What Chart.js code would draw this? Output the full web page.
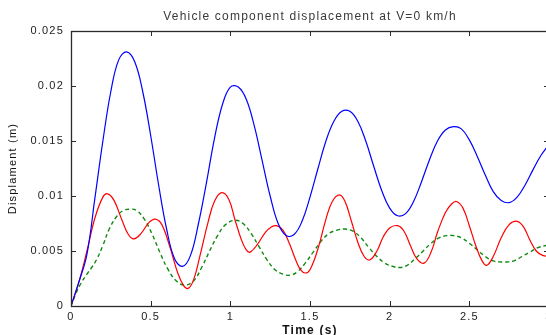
<!DOCTYPE html>
<html>
<head>
<meta charset="utf-8">
<script src="https://cdn.jsdelivr.net/npm/chart.js@4/dist/chart.umd.min.js"></script>
<style>
  html, body { margin: 0; padding: 0; background: #fff; }
  #wrap { width: 546px; height: 335px; overflow: hidden; position: relative; }
  canvas { display: block; }
</style>
</head>
<body>
<div id="wrap"><canvas id="c" width="560" height="335" style="width:560px;height:335px"></canvas></div>
<script>
// ---- data ----
const titleText = 'Vehicle component displacement at V=0 km/h';
const xLabel = 'Time (s)';
const yLabel = 'Displament (m)';
const xTicks = [0, 0.5, 1, 1.5, 2, 2.5, 3];
const xTickLabels = ['0', '0.5', '1', '1.5', '2', '2.5', '3'];
const yTicks = [0, 0.005, 0.01, 0.015, 0.02, 0.025];
const yTickLabels = ['0', '0.005', '0.01', '0.015', '0.02', '0.025'];

const blueT = [0,0.05,0.1,0.15,0.2,0.25,0.3,0.35,0.4,0.45,0.5,0.55,0.6,0.65,0.7,0.75,0.8,0.85,0.9,0.95,1.0,1.05,1.1,1.15,1.2,1.25,1.3,1.35,1.4,1.45,1.5,1.55,1.6,1.65,1.7,1.75,1.8,1.85,1.9,1.95,2.0,2.05,2.1,2.15,2.2,2.25,2.3,2.35,2.4,2.45,2.5,2.55,2.6,2.65,2.7,2.75,2.8,2.85,2.9,2.95,3.0];
const blueV = [0,0.0022,0.0047,0.0098,0.0150,0.0195,0.0224,0.0231,0.0222,0.0195,0.0155,0.0110,0.0070,0.0043,0.0036,0.0046,0.0075,0.0112,0.0152,0.0183,0.0199,0.0199,0.0188,0.0164,0.0132,0.0100,0.0075,0.0064,0.0065,0.0077,0.0099,0.0125,0.0150,0.0168,0.0177,0.0177,0.0168,0.0150,0.0127,0.0105,0.0089,0.0082,0.0084,0.0095,0.0113,0.0133,0.0150,0.0160,0.0163,0.0161,0.0151,0.0136,0.0119,0.0104,0.0096,0.0094,0.0099,0.0110,0.0124,0.0137,0.0147];

const redT = [0,0.05,0.1,0.15,0.2,0.23,0.27,0.32,0.36,0.395,0.44,0.49,0.53,0.57,0.62,0.67,0.705,0.735,0.77,0.81,0.86,0.9,0.946,0.99,1.03,1.07,1.1,1.124,1.17,1.22,1.26,1.29,1.33,1.37,1.41,1.44,1.47,1.5,1.55,1.6,1.64,1.685,1.72,1.76,1.8,1.84,1.877,1.92,1.96,2.0,2.05,2.09,2.13,2.17,2.216,2.26,2.3,2.35,2.39,2.42,2.46,2.5,2.54,2.58,2.61,2.65,2.7,2.75,2.8,2.84,2.88,2.92,2.96,3.0];
const redV = [0,0.0022,0.0050,0.0080,0.0099,0.0102,0.0096,0.0078,0.0065,0.0061,0.0066,0.0076,0.0079,0.0074,0.0054,0.0030,0.0019,0.0016,0.0024,0.0046,0.0076,0.0095,0.0103,0.0097,0.0078,0.0060,0.0051,0.0049,0.0056,0.0067,0.0072,0.0073,0.0069,0.0057,0.0042,0.0033,0.0030,0.0033,0.0052,0.0079,0.0095,0.0101,0.0095,0.0077,0.0058,0.0045,0.0042,0.0050,0.0063,0.0071,0.0073,0.0068,0.0055,0.0043,0.0039,0.0049,0.0067,0.0085,0.0093,0.0095,0.0089,0.0073,0.0055,0.0041,0.0037,0.0045,0.0062,0.0074,0.0077,0.0072,0.0060,0.0050,0.0046,0.0045];

const greenT = [0,0.03,0.06,0.1,0.13,0.16,0.2,0.24,0.29,0.33,0.37,0.41,0.46,0.51,0.56,0.61,0.66,0.716,0.77,0.82,0.87,0.92,0.97,1.03,1.08,1.13,1.18,1.23,1.28,1.33,1.375,1.42,1.47,1.52,1.57,1.62,1.67,1.72,1.77,1.82,1.87,1.92,1.97,2.02,2.065,2.11,2.16,2.21,2.26,2.31,2.36,2.4,2.45,2.5,2.55,2.6,2.65,2.7,2.735,2.78,2.83,2.88,2.93,2.98,3.0];
const greenV = [0,0.0011,0.0020,0.0029,0.0035,0.0042,0.0055,0.0070,0.0082,0.0087,0.0088,0.0087,0.0079,0.0065,0.0048,0.0033,0.0023,0.0019,0.0023,0.0035,0.0050,0.0064,0.0074,0.0078,0.0075,0.0066,0.0054,0.0042,0.0033,0.0029,0.0028,0.0031,0.0039,0.0049,0.0059,0.0066,0.0069,0.0070,0.0068,0.0062,0.0053,0.0045,0.0039,0.0036,0.0035,0.0037,0.0043,0.0050,0.0057,0.0062,0.0064,0.0064,0.0062,0.0057,0.0051,0.0045,0.0041,0.0040,0.0040,0.0041,0.0045,0.0049,0.0053,0.0055,0.0056];

function pairs(ts, vs) { return ts.map((t, i) => ({ x: t, y: vs[i] })); }

const FONT = '"Liberation Sans", Arial, Helvetica, sans-serif';
const AXIS_COLOR = '#2a2a2a';

// MATLAB-like loose letter spacing for all text
const spacingPlugin = {
  id: 'spacing',
  beforeInit(chart) { chart.ctx.letterSpacing = '1.2px'; },
  beforeUpdate(chart) { chart.ctx.letterSpacing = '1.2px'; },
  beforeLayout(chart) { chart.ctx.letterSpacing = '1.2px'; },
  beforeDraw(chart) { chart.ctx.letterSpacing = '1.2px'; }
};

// box + inward tick marks, MATLAB style
const boxPlugin = {
  id: 'boxTicks',
  afterDatasetsDraw(chart) {
    const { ctx, chartArea: a, scales } = chart;
    const L = 5;
    ctx.save();
    ctx.strokeStyle = AXIS_COLOR;
    ctx.lineWidth = 1;
    ctx.beginPath();
    xTicks.forEach(v => {
      const px = Math.round(scales.x.getPixelForValue(v)) + 0.5;
      ctx.moveTo(px, a.bottom); ctx.lineTo(px, a.bottom - L);
      ctx.moveTo(px, a.top); ctx.lineTo(px, a.top + L);
    });
    yTicks.forEach(v => {
      const py = Math.round(scales.y.getPixelForValue(v)) + 0.5;
      ctx.moveTo(a.left, py); ctx.lineTo(a.left + L, py);
      ctx.moveTo(a.right, py); ctx.lineTo(a.right - L, py);
    });
    ctx.stroke();
    ctx.lineWidth = 1.3;
    ctx.strokeRect(Math.round(a.left) + 0.5, Math.round(a.top) + 0.5, Math.round(a.right - a.left), Math.round(a.bottom - a.top));
    ctx.restore();
  }
};

const lineStyle = { pointRadius: 0, tension: 0.4, fill: false };

new Chart(document.getElementById('c'), {
  type: 'line',
  data: {
    datasets: [
      Object.assign({ data: pairs(blueT, blueV), borderColor: '#0000ff', borderWidth: 1.2 }, lineStyle),
      Object.assign({ data: pairs(redT, redV), borderColor: '#ff0000', borderWidth: 1.2 }, lineStyle),
      Object.assign({ data: pairs(greenT, greenV), borderColor: '#108a10', borderWidth: 1.4, borderDash: [4, 3] }, lineStyle)
    ]
  },
  options: {
    responsive: false,
    animation: false,
    devicePixelRatio: 1,
    layout: { padding: { left: 0, right: 11, top: 0, bottom: 0 } },
    plugins: {
      legend: { display: false },
      tooltip: { enabled: false },
      title: {
        display: true, text: titleText, fullSize: false, color: '#3a3a3a',
        font: { family: FONT, size: 12, weight: 'normal' },
        padding: { top: 9, bottom: 7.6 }
      }
    },
    scales: {
      x: {
        type: 'linear', min: 0, max: 3,
        afterBuildTicks: s => { s.ticks = xTicks.map(v => ({ value: v })); },
        afterFit: s => { s.height = 29; },
        grid: { display: false, drawTicks: false },
        border: { display: false },
        ticks: {
          padding: 4, color: '#222', maxRotation: 0, autoSkip: false,
          font: { family: FONT, size: 11 },
          callback: v => { const i = xTicks.indexOf(v); return i >= 0 ? xTickLabels[i] : ''; }
        },
        title: { display: true, text: xLabel, color: '#111', font: { family: FONT, size: 12, weight: 'bold', lineHeight: 0.8 }, padding: { top: 0, bottom: 0 } }
      },
      y: {
        type: 'linear', min: 0, max: 0.025,
        afterBuildTicks: s => { s.ticks = yTicks.map(v => ({ value: v })); },
        afterFit: s => { s.width = 71; },
        grid: { display: false, drawTicks: false },
        border: { display: false },
        ticks: {
          padding: 7, color: '#222', autoSkip: false,
          font: { family: FONT, size: 11 },
          callback: v => { const i = yTicks.findIndex(t => Math.abs(t - v) < 1e-9); return i >= 0 ? yTickLabels[i] : ''; }
        },
        title: { display: true, text: yLabel, color: '#111', font: { family: FONT, size: 11 }, padding: { top: 6, bottom: 0 } }
      }
    }
  },
  plugins: [spacingPlugin, boxPlugin]
});
</script>
</body>
</html>
